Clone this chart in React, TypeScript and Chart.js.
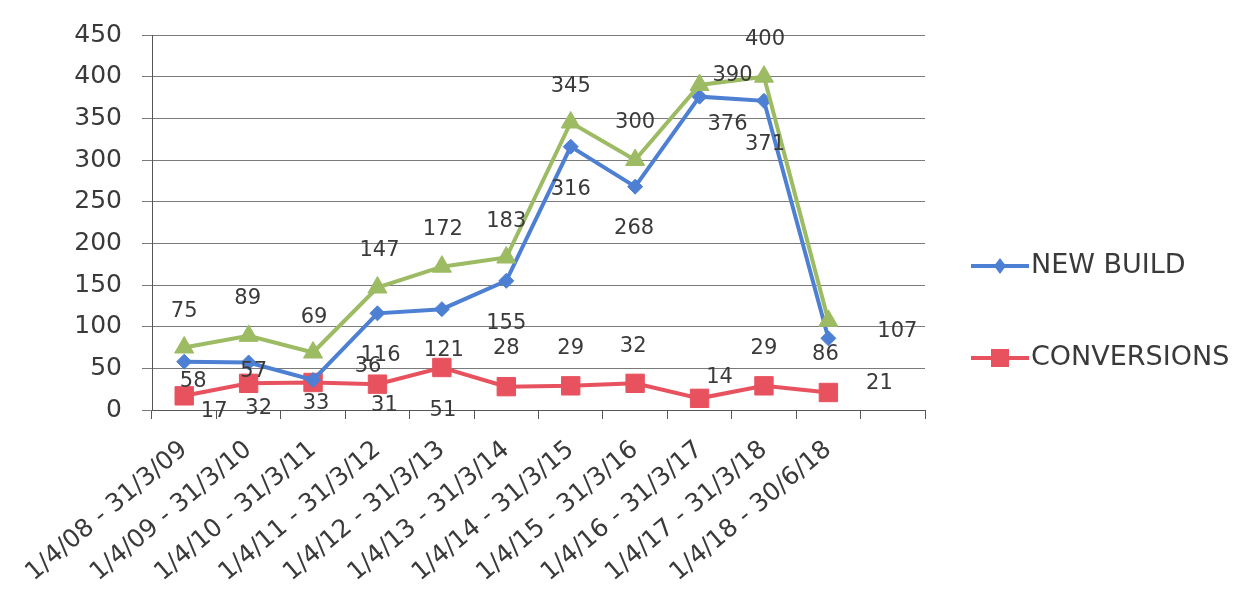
import React, { useEffect, useRef } from 'react';
import { Chart, registerables } from 'chart.js';

Chart.register(...registerables);

const categories = [
  '1/4/08 - 31/3/09',
  '1/4/09 - 31/3/10',
  '1/4/10 - 31/3/11',
  '1/4/11 - 31/3/12',
  '1/4/12 - 31/3/13',
  '1/4/13 - 31/3/14',
  '1/4/14 - 31/3/15',
  '1/4/15 - 31/3/16',
  '1/4/16 - 31/3/17',
  '1/4/17 - 31/3/18',
  '1/4/18 - 30/6/18',
  '',
];
const newBuild = [58, 57, 36, 116, 121, 155, 316, 268, 376, 371, 86];
const conversions = [17, 32, 33, 31, 51, 28, 29, 32, 14, 29, 21];
const totals = [75, 89, 69, 147, 172, 183, 345, 300, 390, 400, 107];
const yMin = 0;
const yMax = 450;
const yStep = 50;

// data-label placement relative to each point (dx, dy in px)
const totalLabelOffsets = [[0, -36], [-1, -37], [1, -35], [2, -37], [1, -37], [0, -36], [0, -36], [0, -37], [33, -9], [1, -37], [69, 11]];
const newBuildLabelOffsets = [[9, 20], [5, 9], [55, -13], [3, 42], [2, 41], [0, 43], [0, 43], [-1, 42], [28, 28], [1, 44], [-3, 16]];
const conversionsLabelOffsets = [[30, 16], [10, 25], [3, 21], [7, 21], [1, 43], [0, -38], [0, -37], [-2, -37], [20, -21], [0, -37], [51, -9]];

const BLUE = '#4d7fd3';
const RED = '#e8525f';
const GREEN = '#9cbb62';
const TEXT = '#3a3a3a';
const AXIS_FONT = '"DejaVu Sans", Verdana, sans-serif';

const dataLabelPlugin = {
  id: 'dataLabels',
  afterDatasetsDraw(chart: any) {
    const ctx = chart.ctx;
    ctx.save();
    ctx.font = '21px ' + AXIS_FONT;
    ctx.fillStyle = TEXT;
    ctx.textAlign = 'center';
    ctx.textBaseline = 'middle';
    chart.data.datasets.forEach((ds: any, i: number) => {
      const meta = chart.getDatasetMeta(i);
      const offs = ds.labelOffsets || [];
      meta.data.forEach((pt: any, j: number) => {
        const v = ds.data[j];
        if (v === null || v === undefined) return;
        const o = offs[j] || [0, -20];
        ctx.fillText(String(v), pt.x + o[0], pt.y + o[1]);
      });
    });
    ctx.restore();
  },
};

const legendPlugin = {
  id: 'customLegend',
  afterDraw(chart: any) {
    const ctx = chart.ctx;
    const items = [
      { text: 'NEW BUILD', color: BLUE, style: 'diamond', y: 266 },
      { text: 'CONVERSIONS', color: RED, style: 'square', y: 358 },
    ];
    const x0 = chart.chartArea.right + 46;
    ctx.save();
    items.forEach((it) => {
      ctx.strokeStyle = it.color;
      ctx.lineWidth = 4;
      ctx.beginPath();
      ctx.moveTo(x0, it.y);
      ctx.lineTo(x0 + 58, it.y);
      ctx.stroke();
      ctx.fillStyle = it.color;
      const cx = x0 + 29;
      if (it.style === 'diamond') {
        ctx.beginPath();
        ctx.moveTo(cx, it.y - 8);
        ctx.lineTo(cx + 6, it.y);
        ctx.lineTo(cx, it.y + 8);
        ctx.lineTo(cx - 6, it.y);
        ctx.closePath();
        ctx.fill();
      } else {
        ctx.fillRect(cx - 9, it.y - 9, 18, 18);
      }
      ctx.fillStyle = TEXT;
      ctx.font = '27px ' + AXIS_FONT;
      ctx.textAlign = 'left';
      ctx.textBaseline = 'middle';
      ctx.fillText(it.text, x0 + 60, it.y);
    });
    ctx.restore();
  },
};

export default function App() {
  const ref = useRef<HTMLCanvasElement | null>(null);
  useEffect(() => {
    if (!ref.current) return;
    const chart = new Chart(ref.current, {
      type: 'line',
      data: {
        labels: categories,
        datasets: [
          {
            label: 'NEW BUILD',
            data: newBuild,
            borderColor: BLUE,
            backgroundColor: BLUE,
            borderWidth: 4,
            pointStyle: 'rectRot',
            pointRadius: 7.5,
            pointBorderWidth: 1,
            tension: 0,
            order: 2,
            labelOffsets: newBuildLabelOffsets,
          } as any,
          {
            label: 'CONVERSIONS',
            data: conversions,
            borderColor: RED,
            backgroundColor: RED,
            borderWidth: 4,
            pointStyle: 'rect',
            pointRadius: 13,
            pointBorderWidth: 1,
            tension: 0,
            order: 3,
            labelOffsets: conversionsLabelOffsets,
          } as any,
          {
            label: 'TOTAL',
            data: totals,
            borderColor: GREEN,
            backgroundColor: GREEN,
            borderWidth: 4,
            pointStyle: 'triangle',
            pointRadius: 11,
            pointBorderWidth: 1,
            tension: 0,
            order: 1,
            labelOffsets: totalLabelOffsets,
          } as any,
        ],
      },
      options: {
        responsive: false,
        animation: false,
        layout: { padding: { left: 0, right: 317, top: 26, bottom: 0 } },
        plugins: {
          legend: { display: false },
          tooltip: { enabled: false },
        },
        scales: {
          x: {
            type: 'category',
            offset: true,
            grid: {
              drawOnChartArea: false,
              drawTicks: true,
              tickLength: 9,
              color: '#555555',
              offset: true,
            },
            border: { display: true, color: '#555555', width: 1 },
            ticks: {
              autoSkip: false,
              maxRotation: 40,
              minRotation: 40,
              padding: 16,
              color: TEXT,
              font: { family: AXIS_FONT, size: 25 },
            },
            afterFit(scale: any) {
              scale.height = 187;
            },
          },
          y: {
            min: yMin,
            max: yMax,
            ticks: {
              stepSize: yStep,
              padding: 20,
              color: TEXT,
              font: { family: AXIS_FONT, size: 25 },
            },
            grid: {
              color: '#7a7a7a',
              lineWidth: 1,
              tickLength: 10,
              drawTicks: true,
            },
            border: { display: true, color: '#555555', width: 1 },
            afterFit(scale: any) {
              scale.width = 152;
            },
          },
        },
      },
      plugins: [dataLabelPlugin, legendPlugin],
    });
    return () => chart.destroy();
  }, []);
  return (
    <div style={{ position: 'fixed', left: 0, top: 0, width: 1242, height: 597, background: '#ffffff' }}>
      <canvas ref={ref} width={1242} height={597} />
    </div>
  );
}
